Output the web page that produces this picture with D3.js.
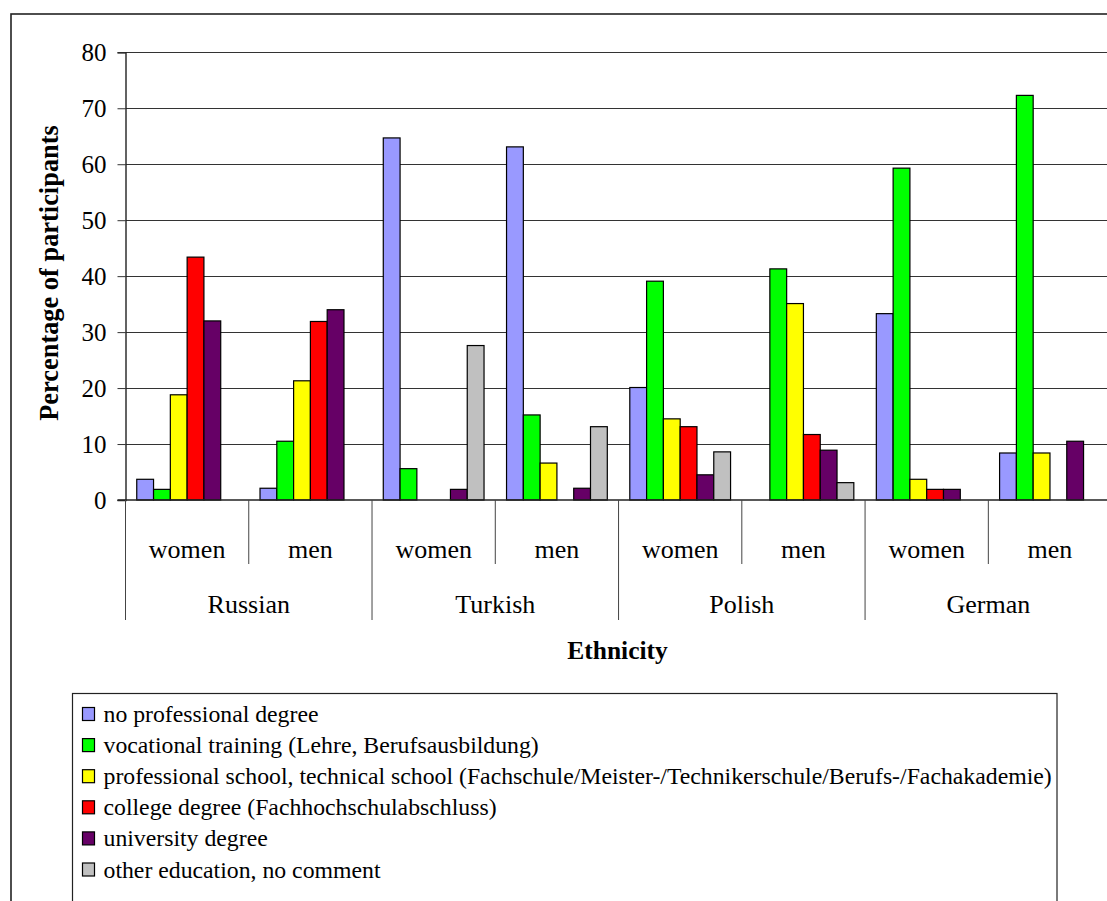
<!DOCTYPE html>
<html>
<head>
<meta charset="utf-8">
<script src="https://cdn.jsdelivr.net/npm/d3@7"></script>
<style>
  html, body { margin: 0; padding: 0; background: #fff; overflow: hidden; }
  svg { display: block; }
  text { font-family: "Liberation Serif", "Times New Roman", serif; fill: #000; }
</style>
</head>
<body>
<svg id="chart" width="1107" height="901"></svg>
<script>
// Categories: ethnicity groups, each split by gender
const ethnicities = ["Russian", "Turkish", "Polish", "German"];
const genders = ["women", "men"];
const yTicks = [0, 10, 20, 30, 40, 50, 60, 70, 80];

// Education series (percent of participants), order: Russian w/m, Turkish w/m, Polish w/m, German w/m
const seriesNames = [
  "no professional degree",
  "vocational training (Lehre, Berufsausbildung)",
  "professional school, technical school (Fachschule/Meister-/Technikerschule/Berufs-/Fachakademie)",
  "college degree (Fachhochschulabschluss)",
  "university degree",
  "other education, no comment"
];
const noDegree     = [3.7, 2.1, 64.7, 63.1, 20.1, 0,    33.3, 8.4];
const vocational   = [1.9, 10.5, 5.6, 15.2, 39.1, 41.3, 59.3, 72.3];
const professional = [18.8, 21.3, 0,  6.6, 14.5, 35.1, 3.7,  8.4];
const college      = [43.4, 31.9, 0,  0,   13.1, 11.7, 1.9,  0];
const university   = [32.0, 34.0, 1.9, 2.1, 4.5, 8.9,  1.9,  10.5];
const other        = [0,    0,   27.6, 13.1, 8.6, 3.1,  0,    0];
const seriesValues = [noDegree, vocational, professional, college, university, other];
const seriesColors = ["#9999FF", "#00FF00", "#FFFF00", "#FF0000", "#660066", "#C0C0C0"];

const svg = d3.select("#chart");

// outer chart frame
svg.append("rect")
  .attr("x", 11).attr("y", 14).attr("width", 1200).attr("height", 1000)
  .attr("fill", "none").attr("stroke", "#222").attr("stroke-width", 1.6);

// sub-categories (ethnicity x gender)
const subcats = [];
ethnicities.forEach(e => genders.forEach(g => subcats.push({ eth: e, gender: g, key: e + "|" + g })));

const plotLeft = 125.5, plotRight = 1111.6, plotBottom = 500, plotTop = 52.3;

const x0 = d3.scaleBand().domain(subcats.map(d => d.key)).range([plotLeft, plotRight]).paddingInner(0).paddingOuter(0);
const x1 = d3.scaleBand().domain(d3.range(seriesNames.length)).range([0, x0.bandwidth()]).paddingInner(0).paddingOuter(0.67);
const y = d3.scaleLinear().domain([0, 80]).range([plotBottom, plotTop]);
const xg = d3.scaleBand().domain(ethnicities).range([plotLeft, plotRight]);

// horizontal gridlines
svg.append("g").selectAll("line").data(yTicks.filter(t => t > 0)).join("line")
  .attr("x1", plotLeft).attr("x2", plotRight)
  .attr("y1", d => Math.round(y(d)) + 0.5).attr("y2", d => Math.round(y(d)) + 0.5)
  .attr("stroke", "#333").attr("stroke-width", 1);

// bars
const barData = [];
subcats.forEach((sc, i) => {
  seriesValues.forEach((vals, s) => {
    if (vals[i] > 0) barData.push({ key: sc.key, s, v: vals[i] });
  });
});
svg.append("g").selectAll("rect").data(barData).join("rect")
  .attr("x", d => x0(d.key) + x1(d.s))
  .attr("y", d => y(d.v))
  .attr("width", x1.bandwidth())
  .attr("height", d => y(0) - y(d.v))
  .attr("fill", d => seriesColors[d.s])
  .attr("stroke", "#000").attr("stroke-width", 1.2);

// y axis
const yAxis = svg.append("g").attr("transform", `translate(${plotLeft},0)`)
  .call(d3.axisLeft(y).tickValues(yTicks).tickSize(8).tickPadding(11).tickFormat(d3.format("d")));
yAxis.select(".domain").attr("stroke", "#222").attr("stroke-width", 1.4);
yAxis.selectAll(".tick line").attr("stroke", "#333");
yAxis.selectAll(".tick text")
  .attr("font-family", "Liberation Serif, Times New Roman, serif")
  .attr("font-size", 25).attr("fill", "#000").attr("dy", "0.34em");

// x baseline
svg.append("line")
  .attr("x1", plotLeft - 8).attr("x2", plotRight)
  .attr("y1", plotBottom).attr("y2", plotBottom)
  .attr("stroke", "#222").attr("stroke-width", 1.4);

// sub-category dividers
svg.append("g").selectAll("line").data(subcats.filter(d => d.gender === "men")).join("line")
  .attr("x1", d => x0(d.key)).attr("x2", d => x0(d.key))
  .attr("y1", plotBottom).attr("y2", 564)
  .attr("stroke", "#444").attr("stroke-width", 1);

// group dividers
svg.append("g").selectAll("line").data(ethnicities.concat(["end"])).join("line")
  .attr("x1", d => d === "end" ? plotRight : xg(d)).attr("x2", d => d === "end" ? plotRight : xg(d))
  .attr("y1", plotBottom).attr("y2", 620)
  .attr("stroke", "#444").attr("stroke-width", 1);

// gender labels
svg.append("g").selectAll("text").data(subcats).join("text")
  .attr("x", d => x0(d.key) + x0.bandwidth() / 2)
  .attr("y", 558)
  .attr("text-anchor", "middle")
  .attr("font-size", 26)
  .text(d => d.gender);

// ethnicity labels
svg.append("g").selectAll("text").data(ethnicities).join("text")
  .attr("x", d => xg(d) + xg.bandwidth() / 2)
  .attr("y", 613)
  .attr("text-anchor", "middle")
  .attr("font-size", 26)
  .text(d => d);

// axis titles
svg.append("text")
  .attr("x", (plotLeft + plotRight) / 2 - 1).attr("y", 659)
  .attr("text-anchor", "middle")
  .attr("font-size", 25.5).attr("font-weight", "bold")
  .text("Ethnicity");

svg.append("text")
  .attr("transform", "translate(58,273) rotate(-90)")
  .attr("text-anchor", "middle")
  .attr("font-size", 26.4).attr("font-weight", "bold")
  .text("Percentage of participants");

// legend
const legend = svg.append("g");
legend.append("rect")
  .attr("x", 72.5).attr("y", 693.5).attr("width", 984.5).attr("height", 300)
  .attr("fill", "#fff").attr("stroke", "#222").attr("stroke-width", 1.2);
const items = legend.selectAll("g.item").data(seriesNames).join("g")
  .attr("class", "item")
  .attr("transform", (d, i) => `translate(0,${714 + i * 31.1})`);
items.append("rect")
  .attr("x", 82.5).attr("y", -6.5).attr("width", 12).attr("height", 13)
  .attr("fill", (d, i) => seriesColors[i])
  .attr("stroke", "#000").attr("stroke-width", 1.2);
items.append("text")
  .attr("x", 103.5).attr("y", 8)
  .attr("font-size", 23.75)
  .text(d => d);
</script>
</body>
</html>
